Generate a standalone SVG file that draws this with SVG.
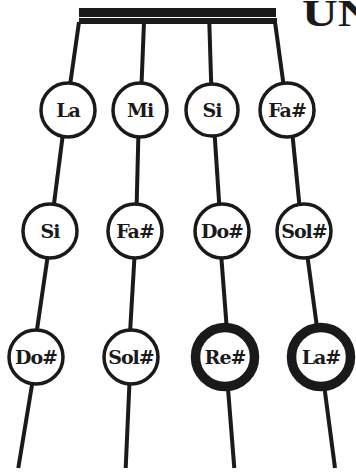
<svg xmlns="http://www.w3.org/2000/svg" width="356" height="472" viewBox="0 0 356 472">
<style>
.ln{stroke:#1a1a1a;stroke-width:4;stroke-linecap:butt;fill:none}
.c{fill:#fff;stroke:#1a1a1a;stroke-width:3.5}
.ct{fill:#fff;stroke:#1a1a1a;stroke-width:9.5}
.t{font-family:"DejaVu Serif","Liberation Serif",serif;font-weight:bold;font-size:19px;letter-spacing:-1px;fill:#1a1a1a;text-anchor:middle}
</style>
<rect width="356" height="472" fill="#fff"/>
<g id="nut">
<rect x="79" y="8" width="197" height="9" fill="#1a1a1a"/>
<rect x="79" y="18" width="198" height="6" fill="#1a1a1a"/>
</g>
<text x="302" y="25.5" font-family="'Liberation Serif',serif" font-weight="bold" font-size="38" fill="#1a1a1a" transform="translate(302 0) scale(1.3 1) translate(-302 0)">UN</text>
<g id="connectors">
<line class="ln" x1="79" y1="22" x2="66.5" y2="110"/>
<line class="ln" x1="144" y1="22" x2="140.5" y2="110"/>
<line class="ln" x1="209.3" y1="22" x2="212" y2="110"/>
<line class="ln" x1="275" y1="22" x2="287" y2="110"/>
<line class="ln" x1="66" y1="110" x2="50.5" y2="231"/>
<line class="ln" x1="139" y1="110" x2="136" y2="231"/>
<line class="ln" x1="213" y1="110" x2="221" y2="231"/>
<line class="ln" x1="290" y1="110" x2="302" y2="231"/>
<line class="ln" x1="51.4" y1="231" x2="33" y2="357"/>
<line class="ln" x1="136" y1="231" x2="128.6" y2="357"/>
<line class="ln" x1="219.3" y1="231" x2="229" y2="357"/>
<line class="ln" x1="304" y1="231" x2="321" y2="357"/>
<line class="ln" x1="36.6" y1="357" x2="18.3" y2="468"/>
<line class="ln" x1="130.6" y1="357" x2="125.7" y2="468"/>
<line class="ln" x1="225.5" y1="357" x2="234.3" y2="468"/>
<line class="ln" x1="320.4" y1="357" x2="335" y2="468"/>
</g>
<g id="n-la"><circle class="c" cx="68" cy="110" r="27"/><text class="t" x="68" y="117">La</text></g>
<g id="n-mi"><circle class="c" cx="140" cy="110" r="27"/><text class="t" x="140" y="117">Mi</text></g>
<g id="n-si1"><circle class="c" cx="212" cy="110" r="26"/><text class="t" x="212" y="117">Si</text></g>
<g id="n-fa1"><circle class="c" cx="287" cy="110" r="27"/><text class="t" x="287" y="117">Fa#</text></g>
<g id="n-si2"><circle class="c" cx="50" cy="231" r="27"/><text class="t" x="50" y="238">Si</text></g>
<g id="n-fa2"><circle class="c" cx="135" cy="231" r="27"/><text class="t" x="135" y="238">Fa#</text></g>
<g id="n-do2"><circle class="c" cx="222" cy="231" r="27"/><text class="t" x="222" y="238">Do#</text></g>
<g id="n-sol2"><circle class="c" cx="304" cy="231" r="27"/><text class="t" x="304" y="238">Sol#</text></g>
<g id="n-do3"><circle class="c" cx="36" cy="357" r="27"/><text class="t" x="36" y="364">Do#</text></g>
<g id="n-sol3"><circle class="c" cx="131" cy="357" r="27"/><text class="t" x="131" y="364">Sol#</text></g>
<g id="n-re3"><circle class="ct" cx="225" cy="357" r="29.5"/><text class="t" x="225" y="364">Re#</text></g>
<g id="n-la3"><circle class="ct" cx="321" cy="357" r="29.5"/><text class="t" x="321" y="364">La#</text></g>
</svg>
